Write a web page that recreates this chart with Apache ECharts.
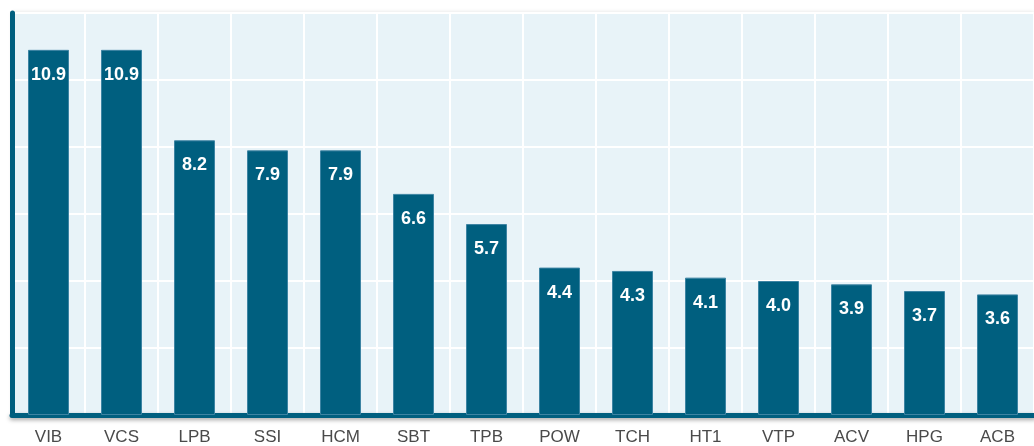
<!DOCTYPE html>
<html>
<head>
<meta charset="utf-8">
<script src="https://cdn.jsdelivr.net/npm/echarts@6/dist/echarts.min.js"></script>
<style>html,body{margin:0;padding:0;background:#fff;}#c{width:1034px;height:446px;}</style>
</head>
<body>
<div id="c"></div>
<script>
const categories = ['VIB','VCS','LPB','SSI','HCM','SBT','TPB','POW','TCH','HT1','VTP','ACV','HPG','ACB'];
const values = [10.9,10.9,8.2,7.9,7.9,6.6,5.7,4.4,4.3,4.1,4.0,3.9,3.7,3.6];
const yTicks = {min:0, max:12, interval:2};

const chart = echarts.init(document.getElementById('c'));
chart.setOption({
  animation:false,
  backgroundColor:'#ffffff',
  grid:{left:12, right:-4, top:13, bottom:31, show:true, backgroundColor:'#e8f3f8', borderWidth:0,
        shadowColor:'rgba(0,0,0,0.12)', shadowBlur:4, shadowOffsetY:-1},
  xAxis:{
    type:'category', data:categories,
    axisLine:{show:true, lineStyle:{color:'#005f7f', width:5, shadowColor:'rgba(0,0,0,0.35)', shadowBlur:4, shadowOffsetY:2}},
    axisTick:{show:false},
    axisLabel:{color:'#4a4a4a', fontSize:17, fontFamily:'Liberation Sans, Arial, sans-serif', margin:14},
    splitLine:{show:true, lineStyle:{color:'#ffffff', width:2}}
  },
  yAxis:{
    type:'value', min:yTicks.min, max:yTicks.max, interval:yTicks.interval,
    axisLine:{show:true, lineStyle:{color:'#005f7f', width:5}},
    axisTick:{show:false},
    axisLabel:{show:false},
    splitLine:{show:true, lineStyle:{color:'#ffffff', width:2}}
  },
  series:[{
    type:'bar', data:values, barWidth:41,
    itemStyle:{color:'#005f7f', borderColor:'#3d84a3', borderWidth:1},
    label:{show:true, position:'insideTop', distance:16, color:'#ffffff', fontWeight:'bold', fontSize:18,
           fontFamily:'Liberation Sans, Arial, sans-serif', formatter:p=>p.value.toFixed(1)}
  }]
});
</script>
</body>
</html>
